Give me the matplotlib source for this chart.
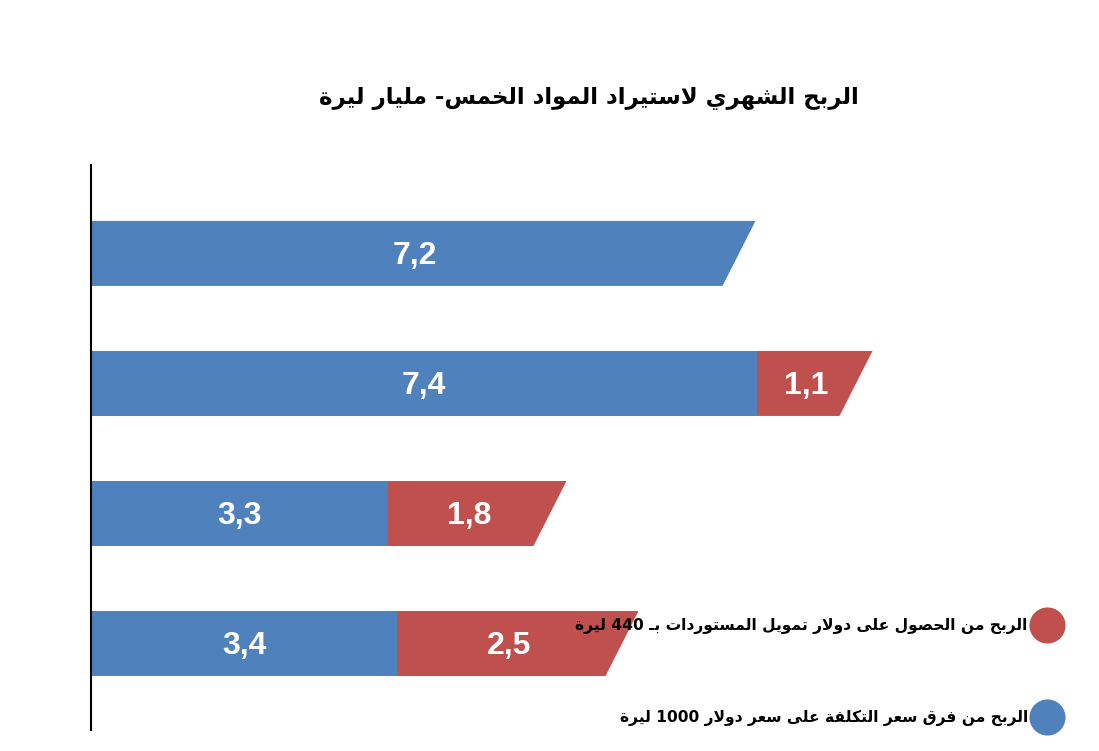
import re
import matplotlib
matplotlib.use("Agg")
import matplotlib.pyplot as plt
from matplotlib.patches import Polygon
from matplotlib.lines import Line2D

# ---------------- data ----------------
categories = ["1", "2", "3", "4"]
blue_values = [7.2, 7.4, 3.3, 3.4]   # الربح من فرق سعر التكلفة
red_values = [0.0, 1.1, 1.8, 2.5]    # الربح من الحصول على دولار تمويل المستوردات
title_text = "الربح الشهري لاستيراد المواد الخمس- مليار ليرة"
legend_red = "الربح من الحصول على دولار تمويل المستوردات بـ 440 ليرة"
legend_blue = "الربح من فرق سعر التكلفة على سعر دولار 1000 ليرة"

BLUE = "#4F81BD"
RED = "#C0504D"

# ---------------- minimal Arabic shaping + RTL ordering ----------------
_BASE = {0x0621: (0xFE80, 1), 0x0622: (0xFE81, 2), 0x0623: (0xFE83, 2), 0x0624: (0xFE85, 2),
         0x0625: (0xFE87, 2), 0x0626: (0xFE89, 4), 0x0627: (0xFE8D, 2), 0x0628: (0xFE8F, 4),
         0x0629: (0xFE93, 2), 0x062A: (0xFE95, 4), 0x062B: (0xFE99, 4), 0x062C: (0xFE9D, 4),
         0x062D: (0xFEA1, 4), 0x062E: (0xFEA5, 4), 0x062F: (0xFEA9, 2), 0x0630: (0xFEAB, 2),
         0x0631: (0xFEAD, 2), 0x0632: (0xFEAF, 2), 0x0633: (0xFEB1, 4), 0x0634: (0xFEB5, 4),
         0x0635: (0xFEB9, 4), 0x0636: (0xFEBD, 4), 0x0637: (0xFEC1, 4), 0x0638: (0xFEC5, 4),
         0x0639: (0xFEC9, 4), 0x063A: (0xFECD, 4), 0x0641: (0xFED1, 4), 0x0642: (0xFED5, 4),
         0x0643: (0xFED9, 4), 0x0644: (0xFEDD, 4), 0x0645: (0xFEE1, 4), 0x0646: (0xFEE5, 4),
         0x0647: (0xFEE9, 4), 0x0648: (0xFEED, 2), 0x0649: (0xFEEF, 2), 0x064A: (0xFEF1, 4)}
_LIG = {"\u0627": 0xFEFB, "\u0623": 0xFEF7, "\u0625": 0xFEF9, "\u0622": 0xFEF5}
_TATWEEL = "\u0640"


def _shape(s):
    toks = []
    i = 0
    while i < len(s):
        c = s[i]
        if c == "\u0644" and i + 1 < len(s) and s[i + 1] in _LIG:
            toks.append(("L", s[i + 1]))
            i += 2
        else:
            toks.append(("C", c))
            i += 1

    def n_forms(t):
        if t[0] == "L":
            return 2
        if t[1] == _TATWEEL:
            return 4
        return _BASE.get(ord(t[1]), (0, 0))[1]

    def jn(t):  # joins to next
        return t[0] == "C" and n_forms(t) == 4

    def jp(t):  # joins to previous
        return n_forms(t) >= 2

    out = []
    for k, t in enumerate(toks):
        pj = k > 0 and jn(toks[k - 1]) and jp(t)
        nj = k + 1 < len(toks) and jn(t) and jp(toks[k + 1])
        if t[0] == "L":
            out.append(chr(_LIG[t[1]] + (1 if pj else 0)))
            continue
        c = t[1]
        if c == _TATWEEL or ord(c) not in _BASE:
            out.append(c)
            continue
        base, n = _BASE[ord(c)]
        if n == 1:
            out.append(chr(base))
        elif n == 2:
            out.append(chr(base + (1 if pj else 0)))
        else:
            off = 3 if (pj and nj) else 1 if pj else 2 if nj else 0
            out.append(chr(base + off))
    return "".join(out)


def ar(s):
    shaped = _shape(s)
    runs = re.findall(r"[0-9]+|[^0-9]+", shaped)
    runs.reverse()
    return "".join(r if r.isdigit() else r[::-1] for r in runs)


# ---------------- figure ----------------
W, H = 1099, 751
fig = plt.figure(figsize=(W / 100, H / 100), dpi=100)
fig.patch.set_facecolor("white")

ax = fig.add_axes([91 / W, (H - 730) / H, (W - 91) / W, 565 / H])
ax.set_xlim(0, (W - 91) / 90.0)
ypos = list(range(len(categories)))
ax.set_ylim(len(categories) - 1 + 0.665, -0.68)

bar_h = 0.5
slant = 33 / 90.0

for y, b, r in zip(ypos, blue_values, red_values):
    segs = [(0.0, b, BLUE)]
    if r > 0:
        segs.append((b, b + r, RED))
    for j, (x0, x1, col) in enumerate(segs):
        top, bot = y - bar_h / 2, y + bar_h / 2
        if j == len(segs) - 1:
            pts = [(x0, top), (x1 + slant / 2, top), (x1 - slant / 2, bot), (x0, bot)]
        else:
            pts = [(x0, top), (x1, top), (x1, bot), (x0, bot)]
        ax.add_patch(Polygon(pts, closed=True, facecolor=col, edgecolor="none"))
        val = x1 - x0
        ax.text((x0 + x1) / 2, y + 0.02, f"{val:.1f}".replace(".", ","), ha="center", va="center",
                color="white", fontsize=23, fontweight="bold", family="Liberation Sans")

for s in ["top", "right", "bottom"]:
    ax.spines[s].set_visible(False)
ax.spines["left"].set_linewidth(1.5)
ax.spines["left"].set_color("black")
ax.set_xticks([])
ax.set_yticks([])
ax.patch.set_alpha(0)

fig.text(589 / W, 1 - 98 / H, ar(title_text), ha="center", va="center",
         fontsize=16.5, fontweight="bold", family="DejaVu Sans")

handles = [Line2D([], [], marker="o", ls="none", markersize=26, color=RED, markeredgewidth=0),
           Line2D([], [], marker="o", ls="none", markersize=26, color=BLUE, markeredgewidth=0)]
leg = fig.legend(handles, [ar(legend_red), ar(legend_blue)], loc="upper right",
                 bbox_to_anchor=(1055 / W, 1 - 618 / H), bbox_transform=fig.transFigure,
                 markerfirst=False, frameon=False, borderpad=0, borderaxespad=0,
                 handlelength=1.0, handletextpad=0.75, labelspacing=4.9,
                 prop={"family": "DejaVu Sans", "weight": "bold", "size": 11.2})

fig.savefig("out.png", dpi=100, facecolor="white")
